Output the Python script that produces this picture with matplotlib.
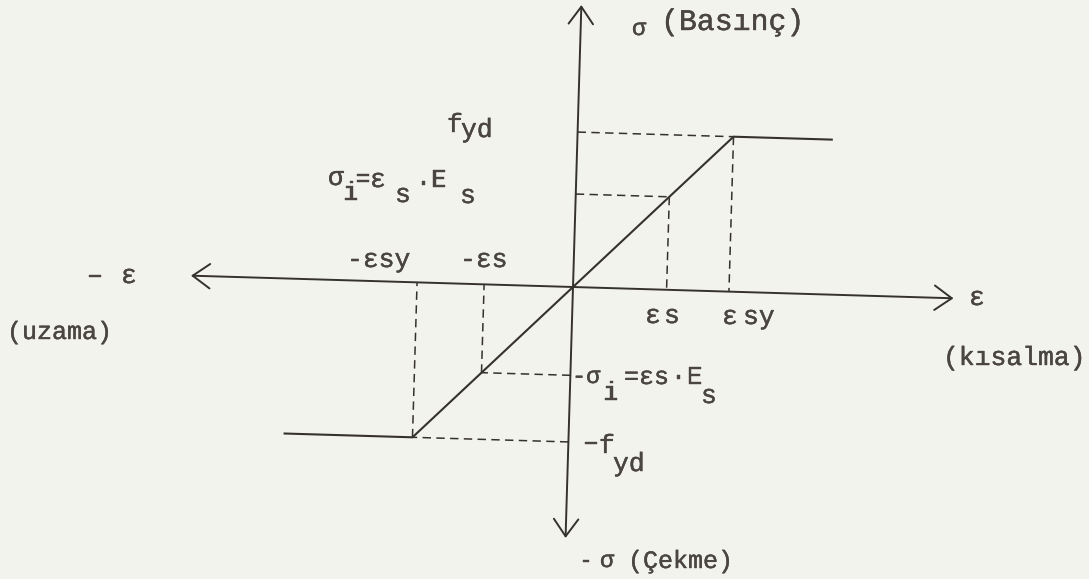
import matplotlib
matplotlib.use("Agg")
import matplotlib.pyplot as plt
import matplotlib.transforms as mtransforms
import matplotlib.patheffects as pe
from matplotlib.patches import FancyArrowPatch

# ----------------------------
# Daten (schematisch: eps_sy = 1, f_yd = 1)
# ----------------------------
curve_eps = [-1.82, -1.0, 0.0, 1.0, 1.63]     # bilineare Stahlkennlinie
curve_sig = [-1.0, -1.0, 0.0, 1.0, 1.0]

guide_eps = [1.0, 0.6, -1.0, -0.57]           # Punkte mit Hilfslinien zu den Achsen
guide_sig = [1.0, 0.6, -1.0, -0.57]

eps_axis = (-2.45, 2.44)
sig_axis = (-1.62, 1.82)

# Beschriftung (Schreibmaschine, Indizes einzeln tiefer gesetzt):
# text, x links, y Grundlinie (Pixel im Bild), Schriftgroesse
labels = [
    ("σ", 632, 35, 17), ("(Basınç)", 661, 30, 21.5),
    ("f", 447, 132, 19), ("yd", 461, 137, 19),
    ("σ", 328, 185, 19), ("i", 343, 200, 19), ("=", 356, 186, 17), ("ε", 370, 187, 19),
    ("s", 395, 202, 19), ("·", 416, 190, 19), ("E", 431, 187, 19), ("s", 460, 203, 19),
    ("-εsy", 347, 267, 19), ("-εs", 460, 267, 19),
    ("–", 87, 283, 19), ("ε", 121, 283, 19),
    ("(uzama)", 7, 339, 18),
    ("ε", 645, 323, 19), ("s", 664, 323, 19),
    ("ε", 722, 324, 19), ("sy", 743, 324, 19),
    ("ε", 969, 305, 19),
    ("(kısalma)", 943, 365, 19),
    ("-σ", 572, 383, 17), ("i", 603, 400, 19), ("=εs", 624, 384, 18),
    ("·E", 671, 384, 19), ("s", 701, 403, 19),
    ("–", 583, 450, 19), ("f", 599, 453, 19), ("yd", 613, 471, 19),
    ("-", 579, 567, 17), ("σ", 600, 567, 17), ("(Çekme)", 628, 568, 18),
]

W, H = 1089, 579
BG = "#f3f3ee"
INK = "#35312d"
TXT = "#4a4540"
plt.rcParams['font.family'] = ['Liberation Mono', 'DejaVu Sans Mono']

fig = plt.figure(figsize=(W / 100, H / 100), dpi=100)
fig.patch.set_facecolor(BG)
ax = fig.add_axes([0, 0, 1, 1])
ax.set_xlim(-573 / 156, (W - 573) / 156)
ax.set_ylim(-(H - 287) / 155, 287 / 155)
ax.axis('off')

# Scan ist leicht verdreht -> alles um den Ursprung drehen
ox, oy = ax.transData.transform((0, 0))
tilt = ax.transData + mtransforms.Affine2D().rotate_deg_around(ox, oy, -1.7)

# Achsen mit offenen Pfeilspitzen
arrow_style = "<->,head_length=0.62,head_width=0.44"
for a, b in [((eps_axis[0], 0), (eps_axis[1], 0)), ((0, sig_axis[0]), (0, sig_axis[1]))]:
    ax.add_patch(FancyArrowPatch(a, b, arrowstyle=arrow_style, mutation_scale=20,
                                 color=INK, lw=1.4, shrinkA=0, shrinkB=0, transform=tilt))

# Kennlinie
ax.plot(curve_eps, curve_sig, color=INK, lw=1.5, solid_joinstyle='miter', transform=tilt)

# Hilfslinien gestrichelt
for e, s in zip(guide_eps, guide_sig):
    ax.plot([e, e], [s, 0], color=INK, lw=1.1, ls=(0, (5.5, 3.5)), transform=tilt)
    ax.plot([0, e], [s, s], color=INK, lw=1.1, ls=(0, (5.5, 3.5)), transform=tilt)

# Texte in Bildpixeln, leicht kraeftiger wie Farbband
pix = mtransforms.Affine2D().scale(1, -1).translate(0, H)
ink = [pe.withStroke(linewidth=0.3, foreground=TXT)]
for s, x, y, size in labels:
    ax.text(x, y, s, transform=pix, fontsize=size, color=TXT, ha='left', va='baseline',
            path_effects=ink)

fig.savefig("out.png", dpi=100, facecolor=BG)
